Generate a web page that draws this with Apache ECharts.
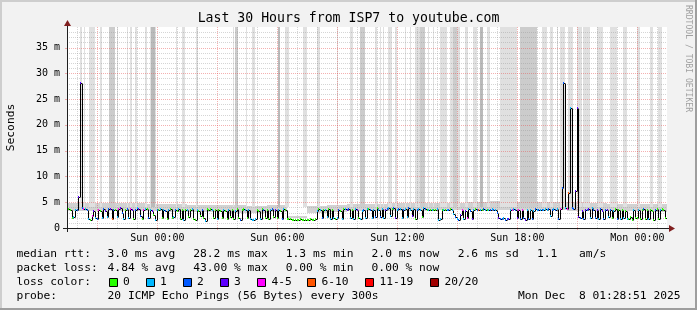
<!DOCTYPE html>
<html><head><meta charset="utf-8">
<script src="https://cdn.jsdelivr.net/npm/echarts@6/dist/echarts.min.js"></script>
<style>html,body{margin:0;padding:0;background:#f2f2f2}#c{width:697px;height:310px}</style>
</head><body><div id="c"></div>
<script>
// ---- time domain (hours since Sat 00:00) ----
const startHour = 19.4808;   // Sat 19:28:51
const endHour = 49.4808;     // Mon 01:28:51
const firstPointHour = 19.5;
const stepHours = 5 / 60;
const yMax = 38.98;

// ---- median RTT (ms), one value per 5 minutes ----
const medianMs = [
 3.8,3.7,3.4,1.9,2.1,3.5,3.4,6.1,28.2,3.8,3.7,3.6,
 3.5,1.8,1.6,2.4,3.3,2.0,1.7,3.4,3.2,1.9,3.6,3.3,
 2.1,3.6,3.7,1.8,3.4,3.5,2.2,3.6,3.8,2.9,1.7,3.5,
 3.6,2.0,3.7,3.4,1.8,3.5,3.9,3.6,2.3,1.7,3.4,3.6,
 3.7,1.9,3.5,3.3,2.6,1.6,3.5,3.4,3.6,2.0,3.5,3.3,
 1.7,3.4,3.6,1.9,2.2,3.5,3.3,3.6,1.8,3.4,1.6,3.5,
 3.4,2.1,3.4,3.6,1.8,1.6,3.5,3.3,2.4,3.5,1.9,1.3,
 3.6,3.5,3.6,3.4,2.0,3.5,1.8,3.4,3.3,1.9,3.5,3.2,
 1.8,3.4,2.2,3.5,1.7,3.3,3.6,1.9,1.6,3.4,3.7,3.5,
 1.9,3.4,1.7,1.6,1.6,1.7,3.5,3.3,1.8,3.6,3.4,2.0,
 3.5,1.8,3.4,3.6,2.1,3.4,1.9,3.5,3.3,1.7,3.6,3.4,
 1.8,1.7,1.7,1.6,1.6,1.6,1.6,1.6,1.7,1.6,1.6,1.6,
 1.6,1.6,1.7,1.6,1.6,1.7,3.3,3.6,3.5,2.0,3.4,3.5,
 2.2,3.6,1.8,3.4,2.0,1.7,1.9,3.5,3.3,1.8,3.6,3.7,
 3.5,3.6,1.9,3.4,1.8,3.6,3.4,2.0,1.8,3.3,3.5,1.9,
 3.6,3.7,3.4,1.9,3.5,2.1,3.8,3.5,2.2,3.6,1.9,3.4,
 3.7,3.8,2.3,3.6,3.9,2.0,3.5,3.7,3.6,1.9,3.4,3.6,
 2.1,3.8,3.5,2.4,3.6,1.8,3.5,3.7,3.4,2.2,3.8,3.6,
 3.5,3.5,3.5,3.5,3.5,3.5,3.6,1.6,1.7,3.5,3.5,3.5,
 3.5,3.5,3.6,3.5,2.8,2.2,1.8,1.6,2.5,3.4,1.8,3.2,
 1.9,3.6,3.3,1.7,3.5,3.6,3.5,3.5,3.5,3.5,3.6,3.5,
 3.5,3.5,3.5,3.6,3.5,3.5,2.9,2.0,1.8,1.7,1.9,1.6,
 1.8,1.7,3.4,3.5,3.6,3.5,1.9,3.4,1.7,3.5,2.0,1.6,
 3.4,1.8,3.5,1.7,3.3,3.6,3.5,3.4,3.5,3.4,3.5,3.6,
 3.5,3.6,2.3,3.5,3.6,3.5,3.6,1.8,3.7,7.7,28.2,3.8,
 3.7,6.8,23.2,3.8,3.7,7.1,23.2,2.2,2.0,3.3,1.7,3.4,
 3.5,3.6,1.9,3.8,3.5,2.0,3.4,1.8,3.6,3.3,1.7,3.5,
 3.4,2.1,3.5,1.9,3.3,3.6,1.8,3.4,1.7,3.5,2.0,3.3,
 1.8,1.7,2.2,1.6,3.4,2.0,1.9,3.5,1.7,3.4,3.6,1.8,
 3.4,1.7,3.5,3.3,1.6,3.5,3.6,1.8,3.5,3.6,3.5,2.0
];

// ---- lost pings (of 20) per 5 minutes ----
const lossCount = [
 0,0,0,0,1,1,2,3,3,2,4,1,
 2,1,0,4,3,1,2,5,0,1,2,3,
 1,2,3,6,2,0,1,4,3,2,1,0,
 2,1,4,3,0,2,1,3,2,0,4,1,
 0,2,1,3,0,1,2,0,1,0,1,2,
 0,1,0,0,1,2,0,1,0,0,1,0,
 1,0,0,1,0,0,1,0,0,2,0,1,
 0,0,0,1,0,0,1,0,0,0,1,0,
 0,1,0,0,0,1,0,0,2,0,0,1,
 0,1,1,1,1,1,0,0,1,0,2,0,
 0,0,1,2,0,3,0,1,0,2,1,0,
 0,0,0,0,0,0,0,0,0,0,0,0,
 0,0,0,0,0,0,1,0,1,2,0,1,
 1,0,1,0,1,0,1,2,0,1,0,1,
 3,2,1,0,1,1,3,0,1,1,2,1,
 1,0,2,1,1,2,0,1,2,1,1,3,
 2,1,1,0,2,3,1,2,1,1,2,1,
 1,2,1,3,1,0,2,1,1,0,1,2,
 0,1,0,1,0,0,1,1,1,0,1,0,
 1,2,0,1,1,2,1,2,3,4,1,3,
 4,1,2,3,1,0,2,6,1,0,2,1,
 0,1,2,1,2,1,2,3,2,2,1,2,
 2,3,1,4,1,2,3,4,2,4,2,3,
 1,2,1,2,1,2,1,2,1,2,1,1,
 1,2,1,2,1,2,1,2,4,2,2,1,
 4,9,1,2,2,3,3,3,2,3,2,3,
 2,3,1,1,2,2,3,1,2,3,2,2,
 3,1,2,0,1,0,2,0,1,0,1,0,
 1,0,0,0,1,0,0,1,0,0,2,0,
 0,1,0,0,0,2,0,0,1,0,0,0
];

// ---- smoke band per hour (ms) ----
const smokeLo = [3.3,3.2,3.3,3.3,3.2,3.1,3.1,3.1,3.0,3.0,3.1,1.9,3.0,3.1,3.2,3.3,3.3,3.3,3.4,3.4,3.4,3.5,3.4,3.4,3.4,3.3,3.2,3.2,3.2,3.1];
const smokeHi = [4.9,4.8,4.9,4.9,4.7,4.6,4.5,4.4,4.4,4.3,4.4,2.4,4.2,4.4,4.6,4.7,4.8,4.8,4.9,4.9,5.0,5.2,5.0,5.0,5.1,5.0,4.8,4.7,4.7,4.6];

// ---- outlier smoke reaching the top (hours) ----
const outlierStart = [20.106,20.331,20.581,21.131,21.581,21.956,22.456,22.631,22.881,23.381,23.631,23.681,24.931,25.206,25.931,27.781,27.881,28.431,28.731,30.031,30.381,31.281,31.981,32.981,33.631,34.131,34.881,35.131,35.281,35.531,35.881,36.381,36.631,36.881,37.131,37.531,37.781,38.131,38.631,38.781,39.381,39.781,40.131,40.481,41.131,42.131,43.231,43.631,43.981,44.131,44.531,44.981,45.281,45.981,46.631,47.281,47.981,48.631,49.031];
const outlierEnd   = [20.206,20.381,20.881,21.206,21.881,22.006,22.531,22.706,22.956,23.456,23.931,23.881,24.981,25.381,26.006,27.831,28.031,28.481,28.881,30.131,30.581,31.481,32.131,33.031,33.781,34.381,34.981,35.181,35.331,35.731,35.981,36.431,36.681,37.131,37.381,37.581,37.831,38.481,39.131,38.981,39.531,39.981,40.281,40.631,41.981,42.981,43.481,43.781,44.031,44.381,44.781,45.231,45.631,46.281,46.981,47.481,48.131,48.781,49.231];
const outlierShade = [0,0,0,0,1,0,0,0,0,0,0,2,0,0,0,0,1,0,0,2,0,0,0,0,0,1,0,0,0,0,0,0,0,0,1,0,0,0,0,1,0,0,2,0,0,1,0,0,0,0,0,0,0,0,0,0,0,0,0];

// ---- ticks ----
const xTickHours = [24, 30, 36, 42, 48];
const xTickLabels = ['Sun 00:00', 'Sun 06:00', 'Sun 12:00', 'Sun 18:00', 'Mon 00:00'];
const yTickValues = [0, 5, 10, 15, 20, 25, 30, 35];

// ---- legend ----
const lossBuckets = ['0', '1', '2', '3', '4-5', '6-10', '11-19', '20/20'];
const lossColors = ['#26ff00', '#00b8ff', '#0059ff', '#5e00ff', '#ff00ff', '#ff5500', '#ff0000', '#a10000'];
const rttStats = ['3.0 ms avg', '28.2 ms max', '1.3 ms min', '2.0 ms now', '2.6 ms sd', '1.1', 'am/s'];
const lossStats = ['4.84 % avg', '43.00 % max', '0.00 % min', '0.00 % now'];

function bucketOf(n) {
  if (n <= 3) return n;
  if (n <= 5) return 4;
  if (n <= 10) return 5;
  if (n <= 19) return 6;
  return 7;
}

const FONT = '"DejaVu Sans Mono", monospace';
const GRID_C = 'rgba(150,150,150,0.4)';
const MGRID_C = 'rgba(230,80,80,0.45)';
const AXIS_C = '#1f1f1f';
const ARROW_C = '#801f1f';
const shadeColors = ['#e0e0e0', '#cccccc', '#bababa'];

const medianData = medianMs.map((v, i) => [firstPointHour + i * stepHours, v, bucketOf(lossCount[i])]);
const smokeData = smokeLo.map((lo, k) => {
  const s = Math.max(startHour, firstPointHour - stepHours / 2 + k);
  return [s, Math.min(endHour, firstPointHour - stepHours / 2 + k + 1), lo, smokeHi[k]];
});
const outlierData = outlierStart.map((s, i) => [s, outlierEnd[i], outlierShade[i]]);

const vMinor = [], vMajor = [];
for (let h = Math.ceil(startHour); h <= endHour; h++) (h % 3 === 0 ? vMajor : vMinor).push([h, 0]);
const hMinor = [], hMajor = [];
for (let v = 1; v < yMax; v++) (v % 5 === 0 ? hMajor : hMinor).push([startHour, v]);

function vLineSeries(data, color, major) {
  return {
    type: 'custom', data, clip: false, silent: true, z: 3,
    renderItem(params, api) {
      const h = api.value(0);
      const pb = api.coord([h, 0]), pt = api.coord([h, yMax]);
      const x = Math.round(pb[0]) + 0.5, yb = Math.round(pb[1]), yt = Math.round(pt[1]);
      const ch = [{ type: 'line', shape: { x1: x, y1: yb, x2: x, y2: yt }, style: { stroke: color, lineWidth: 1, lineDash: [1, 1] } }];
      if (major) ch.push({ type: 'line', shape: { x1: x, y1: yb, x2: x, y2: yb + 2 }, style: { stroke: color, lineWidth: 1 } });
      return { type: 'group', children: ch };
    }
  };
}
function hLineSeries(data, color, major) {
  return {
    type: 'custom', data, clip: false, silent: true, z: 3,
    renderItem(params, api) {
      const v = api.value(1);
      const pl = api.coord([startHour, v]), pr = api.coord([endHour, v]);
      const y = Math.round(pl[1]) + 0.5, xl = Math.round(pl[0]), xr = Math.round(pr[0]);
      const ch = [{ type: 'line', shape: { x1: xl, y1: y, x2: xr, y2: y }, style: { stroke: color, lineWidth: 1, lineDash: [1, 1] } }];
      if (major) ch.push({ type: 'line', shape: { x1: xl - 2, y1: y, x2: xl, y2: y }, style: { stroke: color, lineWidth: 1 } });
      return { type: 'group', children: ch };
    }
  };
}

const graphics = [];
// frame shades
graphics.push({ type: 'rect', shape: { x: 0, y: 0, width: 697, height: 2 }, style: { fill: '#cecece' } });
graphics.push({ type: 'rect', shape: { x: 0, y: 0, width: 2, height: 310 }, style: { fill: '#cecece' } });
graphics.push({ type: 'rect', shape: { x: 0, y: 308, width: 697, height: 2 }, style: { fill: '#9e9e9e' } });
graphics.push({ type: 'rect', shape: { x: 695, y: 0, width: 2, height: 310 }, style: { fill: '#9e9e9e' } });
// axes
graphics.push({ type: 'line', z: 50, shape: { x1: 63, y1: 228.5, x2: 671, y2: 228.5 }, style: { stroke: AXIS_C, lineWidth: 1 } });
graphics.push({ type: 'line', z: 50, shape: { x1: 67.5, y1: 232, x2: 67.5, y2: 23 }, style: { stroke: AXIS_C, lineWidth: 1 } });
graphics.push({ type: 'polygon', z: 51, shape: { points: [[669, 225], [669, 232], [675, 228.5]] }, style: { fill: ARROW_C } });
graphics.push({ type: 'polygon', z: 51, shape: { points: [[64, 26], [71, 26], [67.5, 20]] }, style: { fill: ARROW_C } });
// title & labels
graphics.push({ type: 'text', x: 348.5, y: 18.5, style: { text: 'Last 30 Hours from ISP7 to youtube.com', font: '13.2px ' + FONT, fill: '#000', align: 'center', verticalAlign: 'middle' } });
graphics.push({ type: 'text', x: 11, y: 127.5, rotation: Math.PI / 2, style: { text: 'Seconds', font: '11.3px ' + FONT, fill: '#000', align: 'center', verticalAlign: 'middle' } });
graphics.push({ type: 'text', x: 688.5, y: 58.5, rotation: -Math.PI / 2, style: { text: 'RRDTOOL / TOBI OETIKER', font: '8.1px ' + FONT, fill: '#a0a0a0', align: 'center', verticalAlign: 'middle' } });
// legend rows
const LF = '11.26px ' + FONT;
function lt(text, x, y, align) {
  graphics.push({ type: 'text', x, y, style: { text, font: LF, fill: '#000', align: align || 'left', verticalAlign: 'middle' } });
}
const rowY = [254.5, 268.5, 282.5, 296.5];
lt('median rtt:', 16.4, rowY[0]);
[107.6, 193.3, 285.8, 371.6, 457.8, 536.9, 579.1].forEach((x, i) => lt(rttStats[i], x, rowY[0]));
lt('packet loss:', 16.4, rowY[1]);
[107.6, 193.3, 285.8, 371.6].forEach((x, i) => lt(lossStats[i], x, rowY[1]));
lt('loss color:', 16.4, rowY[2]);
[108.5, 145.5, 182.5, 219.5, 257, 307, 365, 430].forEach((x, i) => {
  graphics.push({ type: 'rect', shape: { x: Math.round(x) + 0.5, y: 278.5, width: 8, height: 8 }, style: { fill: lossColors[i], stroke: '#000', lineWidth: 1 } });
  lt(lossBuckets[i], x + 14.5, rowY[2]);
});
lt('probe:', 16.4, rowY[3]);
lt('20 ICMP Echo Pings (56 Bytes) every 300s', 107.6, rowY[3]);
lt('Mon Dec  8 01:28:51 2025', 680.5, rowY[3], 'right');

const chart = echarts.init(document.getElementById('c'), null, { renderer: 'canvas', width: 697, height: 310 });
chart.setOption({
  animation: false,
  backgroundColor: '#f2f2f2',
  grid: { left: 67, top: 27, width: 600, height: 201, show: true, backgroundColor: '#ffffff', borderWidth: 0 },
  xAxis: {
    type: 'value', min: startHour, max: endHour,
    axisLine: { show: false }, axisTick: { show: false }, splitLine: { show: false },
    axisLabel: {
      customValues: xTickHours, margin: 5, fontSize: 10, fontFamily: FONT, color: '#000',
      formatter: v => xTickLabels[xTickHours.indexOf(Math.round(v))] || ''
    }
  },
  yAxis: {
    type: 'value', min: 0, max: yMax,
    axisLine: { show: false }, axisTick: { show: false }, splitLine: { show: false },
    axisLabel: {
      customValues: yTickValues, margin: 7, fontSize: 10, fontFamily: FONT, color: '#000',
      formatter: v => (Math.round(v) === 0 ? '0' : Math.round(v) + ' m')
    }
  },
  graphic: graphics,
  series: [
    { // smoke band
      type: 'custom', data: smokeData, clip: true, silent: true, z: 1,
      renderItem(params, api) {
        const a = api.coord([api.value(0), api.value(3)]), b = api.coord([api.value(1), api.value(2)]);
        return { type: 'rect', shape: { x: Math.round(a[0]), y: Math.round(a[1]), width: Math.round(b[0]) - Math.round(a[0]), height: Math.round(b[1]) - Math.round(a[1]) }, style: { fill: '#d2d2d2' } };
      }
    },
    { // outlier smoke to top
      type: 'custom', data: outlierData, clip: true, silent: true, z: 2,
      renderItem(params, api) {
        const a = api.coord([api.value(0), yMax]), b = api.coord([api.value(1), 4]);
        const x0 = Math.round(a[0]), x1 = Math.max(x0 + 1, Math.round(b[0]));
        return { type: 'rect', shape: { x: x0, y: Math.round(a[1]), width: x1 - x0, height: Math.round(b[1]) - Math.round(a[1]) }, style: { fill: shadeColors[api.value(2)] } };
      }
    },
    vLineSeries(vMinor, GRID_C, false),
    vLineSeries(vMajor, MGRID_C, true),
    hLineSeries(hMinor, GRID_C, false),
    hLineSeries(hMajor, MGRID_C, true),
    { // median line coloured by loss
      type: 'custom', data: medianData, clip: true, silent: true, z: 10,
      renderItem(params, api) {
        const i = params.dataIndex;
        const t = api.value(0), v = api.value(1), b = api.value(2);
        const p0 = api.coord([t - stepHours / 2, v]), p1 = api.coord([t + stepHours / 2, v]);
        const x0 = Math.round(p0[0]), x1 = Math.round(p1[0]);
        const y = Math.round(p0[1]) + 0.5;
        const ch = [{ type: 'line', shape: { x1: x0, y1: y, x2: x1, y2: y }, style: { stroke: '#000', lineWidth: 1 } }];
        if (i + 1 < medianData.length) {
          const yn = Math.round(api.coord([t, medianData[i + 1][1]])[1]) + 0.5;
          ch.push({ type: 'line', shape: { x1: x1 + 0.5, y1: y, x2: x1 + 0.5, y2: yn }, style: { stroke: '#000', lineWidth: 1 } });
        }
        ch.push({ type: 'rect', shape: { x: x0, y: y - 1.5, width: 1, height: 2 }, style: { fill: lossColors[b] } });
        return { type: 'group', children: ch };
      }
    }
  ]
});
</script>
</body></html>
